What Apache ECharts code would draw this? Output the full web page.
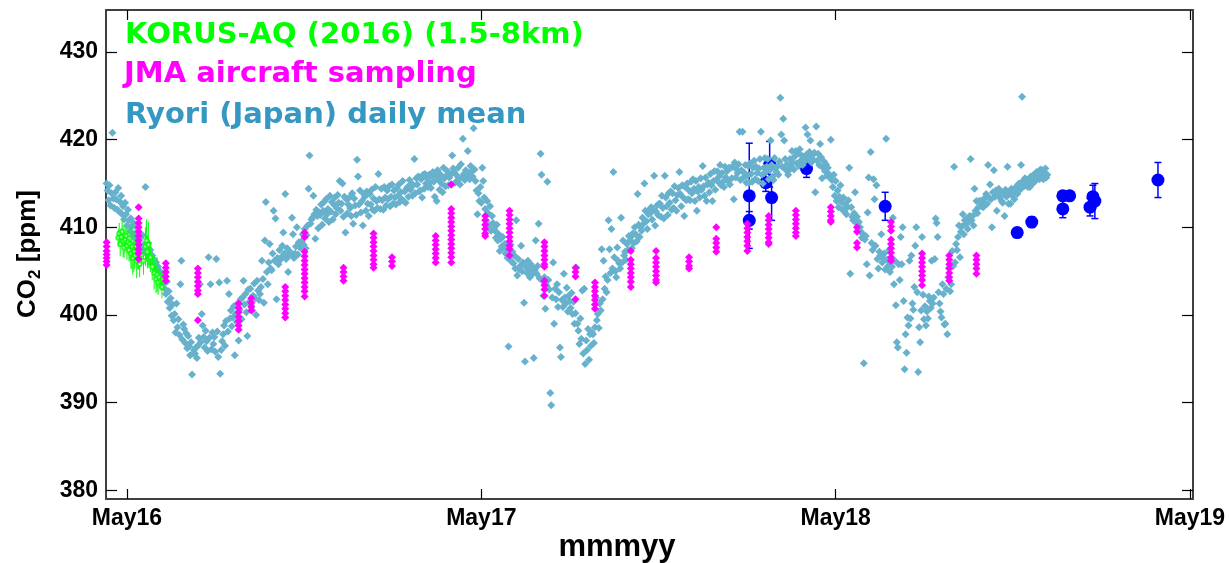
<!DOCTYPE html>
<html><head><meta charset="utf-8">
<script src="https://cdn.jsdelivr.net/npm/echarts@6/dist/echarts.min.js"></script>
<style>html,body{margin:0;padding:0;background:#fff}#c{width:1229px;height:563px}</style>
</head><body><div id="c"></div>
<script>
// ---------- DATA ----------
// Ryori (Japan) daily mean CO2 [ppm]; one value per day
const ryori2016Start = '2016-04-10';
const ryori2016 = [
415.0,414.2,413.1,414.8,412.5,413.9,420.8,413.3,412.2,414.0,
413.2,412.0,414.5,411.8,412.9,413.6,411.5,412.4,410.9,412.8,
411.5,410.2,412.0,410.8,409.6,411.0,410.1,409.0,410.5,409.3,
408.7,410.0,408.2,409.4,407.9,408.8,407.5,409.1,408.0,407.2,
414.6,407.8,406.9,408.2,406.5,407.4,405.9,406.8,405.6,406.3,
405.2,406.0,404.8,405.5,404.3,405.0,404.0,404.7,403.6,404.2,
403.0,402.4,403.8,401.5,402.7,400.8,401.9,399.9,401.2,399.4,
400.1,398.0,401.3,398.6,399.5,397.7,403.5,406.2,397.2,398.9,
398.4,396.8,397.9,396.2,397.6,396.4,395.4,396.9,393.2,395.6,
396.0,395.6,396.3,395.1,396.5,397.4,403.5,396.9,400.1,398.8,
397.5,396.3,398.2,397.0,395.9,406.6,397.4,403.5,396.1,398.0,
396.7,397.5,395.8,406.4,398.1,395.2,403.7,393.3,396.0,397.0,
397.8,398.8,396.5,399.3,403.9,398.1,402.4,399.6,400.5,398.7,
399.7,401.0,395.4,400.1,399.2,401.3,397.1,400.6,401.8,399.5,
402.0,403.9,401.2,402.4,400.3,397.6,402.9,401.5,403.0,401.1,
400.5,402.2,403.6,401.9,400.0,403.9,402.8,401.7,402.4,403.2,
406.2,404.1,401.4,408.5,412.9,404.9,403.5,406.0,408.1,405.3,
405.1,407.0,411.9,406.2,411.0,401.8,406.5,405.8,407.4,406.3,
406.6,407.9,409.4,407.0,413.8,406.4,407.6,404.9,406.8,407.2,
407.0,411.1,409.2,406.5,407.0,407.8,410.0,406.9,408.3,407.7,
407.7,408.4,409.2,408.0,409.8,407.6,409.1,410.2,414.4,418.2,
410.4,410.9,411.1,413.6,411.5,408.7,412.0,411.3,409.9,411.7,
411.4,412.6,410.3,411.9,412.9,411.0,413.2,411.5,412.1,410.6,
413.6,411.8,412.9,410.9,412.6,413.4,411.5,412.2,413.7,412.8,
415.3,411.9,412.7,415.0,411.2,413.5,409.4,413.2,411.6,412.6,
413.4,412.2,411.3,413.9,410.4,413.3,412.5,411.4,417.7,415.8,
412.6,414.2,411.7,413.0,410.2,413.8
];
const ryori2017Start = '2017-01-01';
const ryori2017 = [
413.5,411.9,414.1,412.7,
411.3,413.8,412.6,414.3,412.0,413.3,411.9,414.6,413.0,412.2,
416.1,413.2,412.1,414.4,413.1,412.0,414.6,413.4,412.5,414.2,
413.2,414.7,412.4,413.5,414.9,412.7,414.2,413.4,412.6,414.5,
413.6,414.9,412.9,414.0,413.2,415.3,413.0,414.1,412.8,414.4,
414.6,413.5,415.4,414.3,415.0,413.6,414.8,417.8,413.9,415.6,
414.9,415.8,414.1,414.2,415.5,413.4,416.0,414.4,416.1,415.0,
415.6,414.6,416.0,415.1,414.5,415.8,416.3,415.2,413.5,415.9,
413.0,416.5,415.4,414.3,416.0,415.0,414.0,416.8,415.6,414.7,
415.9,416.4,414.8,415.7,416.0,414.9,418.2,416.7,416.3,415.1,
416.0,415.3,416.8,415.6,414.9,417.2,415.7,420.1,416.1,415.4,
416.5,415.8,418.7,416.2,415.5,417.0,416.4,415.8,421.3,416.6,
415.3,414.2,411.5,413.9,413.0,414.6,412.8,416.8,415.3,413.4,
412.1,410.8,413.0,411.6,410.2,412.4,409.6,411.3,410.5,409.8,
409.6,408.8,410.3,408.5,409.2,407.3,408.7,407.8,408.9,407.7,
408.1,407.0,407.7,406.5,396.4,406.6,408.0,406.1,407.2,405.9,
406.8,405.3,410.8,404.5,406.4,405.2,405.6,407.9,405.0,406.0,
401.4,394.7,405.5,404.8,406.2,405.0,404.3,405.8,404.6,405.4,
395.1,405.1,408.5,404.7,405.6,410.4,404.2,418.4,416.0,403.9,
402.2,404.3,400.7,403.4,415.2,404.0,402.9,391.1,389.7,402.0,
406.0,399.0,403.0,401.8,403.5,400.9,402.6,396.3,395.2,401.7,
400.9,404.7,402.0,401.3,403.1,400.4,402.2,401.6,400.8,402.5,
400.1,401.5,399.0,400.2,405.4,399.0,398.2,396.7,399.6,397.3,
402.8,395.6,403.0,394.4,397.1,396.0,398.4,394.9,397.8,396.5,
398.0,397.8,396.8,398.6,402.0,399.4,400.1,398.5,401.3,400.5,
407.5,401.8,406.2,403.0,404.4,402.6,404.0,410.8,407.5,404.8,
409.8,405.3,416.3,406.6,405.0,404.3,407.7,406.2,405.9,405.3,
411.1,406.0,408.5,406.8,407.2,406.3,408.1,407.4,409.0,408.5,
408.9,407.6,409.3,408.2,410.0,409.2,408.4,413.8,410.3,408.9,
410.0,409.6,411.1,410.4,415.0,411.9,410.7,409.8,411.5,412.0,
411.6,412.3,410.9,412.0,415.9,410.2,411.8,412.5,411.4,412.7,
412.7,411.2,413.6,412.2,411.0,415.9,413.4,412.4,411.4,413.9,
412.8,414.1,412.0,413.9,412.2,414.7,413.1,411.9,413.7,414.5,
416.3,413.8,412.4,414.8,413.4,411.3,414.6,413.1,415.0,413.2,
414.2,413.1,415.2,413.9,415.5,414.4,413.0,415.3,411.9,414.1,
414.6,413.4,415.6,414.3,417.0,414.7,413.6,415.7,413.0,414.9,
415.1,414.0,416.1,414.8,413.0,415.3,416.4,414.3,415.4,416.4,
415.2
];
const ryori2018Start = '2018-01-01';
const ryori2018 = [
415.8,417.1,414.8,416.2,415.2,414.6,416.9,415.7,416.4,
415.3,416.8,414.9,416.8,415.6,416.9,413.2,417.4,415.7,416.6,
416.2,417.2,420.9,415.4,416.5,420.9,415.7,416.2,417.1,415.1,
415.9,417.0,415.1,417.3,416.1,415.2,416.8,417.6,415.5,416.9,
416.2,415.3,416.7,417.8,420.9,416.0,415.0,416.8,417.9,416.3,
416.9,417.8,415.5,416.5,419.9,417.1,415.8,415.4,417.9,416.7,
416.3,417.0,416.0,417.5,424.8,420.6,416.9,422.4,419.9,417.8,
416.5,417.2,416.0,416.5,417.8,416.9,418.7,417.4,416.6,418.1,
418.7,417.3,418.4,417.0,418.9,417.6,418.2,417.1,418.0,417.5,
421.4,418.3,420.6,417.9,418.6,419.9,417.4,418.2,417.7,418.5,
414.0,421.5,417.6,418.4,417.1,419.5,418.0,415.6,416.8,417.5,
416.4,417.2,415.9,416.8,416.1,415.7,420.0,415.4,414.6,416.0,
413.6,415.3,413.0,414.2,412.3,413.5,414.8,412.9,412.0,413.4,
411.8,412.6,411.5,412.3,413.1,416.8,404.7,412.3,411.2,410.8,
411.6,414.0,410.5,411.2,409.9,410.6,410.0,409.5,408.8,409.2,
394.5,408.6,409.0,405.8,411.7,415.7,404.5,418.6,408.2,407.4,
415.5,413.2,407.9,414.8,406.4,405.3,407.2,406.8,409.2,406.0,
406.5,407.0,405.2,420.1,406.3,405.6,407.4,404.9,406.0,405.5,
411.1,403.5,406.2,401.1,396.9,396.3,405.8,404.0,408.9,405.8,
410.0,401.6,393.8,397.8,395.7,399.7,398.8,406.2,399.6,406.8,
401.3,400.6,403.2,407.9,410.0,402.6,393.5,398.6,396.9,400.5,
408.9,402.3,399.5,401.0,398.8,400.4,399.6,402.1,401.6,400.8,
406.2,401.3,402.0,406.4,411.0,410.5,408.9,402.6,401.3,400.4,
399.7,403.5,402.4,398.9,399.0,403.0,397.8,404.3,405.4,402.7,
403.5,407.3,405.6,416.9,406.0,408.1,407.4,408.9,410.2,406.6,
409.5,410.1,411.5,409.2,410.8,410.4,411.0,409.8,410.6,411.3,
417.8,410.8,411.3,410.2,414.4,411.9,413.0,411.6,412.3,413.0,
413.0,412.4,412.9,412.3,413.3,412.6,413.8,412.7,417.1,413.4,
414.9,413.2,410.0,414.0,416.5,413.5,414.2,411.9,413.6,414.4,
413.4,414.1,413.0,412.8,413.8,411.3,414.3,413.5,416.9,412.7,
413.9,412.7,414.4,413.6,414.0,413.2,414.5,414.6,413.8,414.9,
415.0,414.3,417.1,424.9,415.3,414.7,415.6,414.9,415.2,414.6,
415.3,414.6,415.8,414.9,415.7,416.0,415.2,415.9,416.3,415.6,
416.1,415.5,416.6,415.8,416.5,415.5,416.2,416.7,415.7,416.0
];

// JMA aircraft sampling: one flight date, several altitude samples each
const jmaDates = ['2016-04-10','2016-05-13','2016-06-10','2016-07-13','2016-08-24','2016-09-06',
  '2016-10-11','2016-10-31','2016-12-10','2017-01-10','2017-01-29','2017-03-15','2017-03-31',
  '2017-05-05','2017-05-30','2017-07-05','2017-08-06','2017-08-26','2017-10-02','2017-10-28',
  '2017-12-01','2017-12-29','2018-01-30','2018-02-21','2018-03-21','2018-04-26','2018-05-23',
  '2018-06-27','2018-07-29','2018-08-26','2018-09-23'];
const jmaValues = [
  [408.3,407.8,407.3,406.9,406.5,406.1,405.7],
  [412.3,411.0,410.5,410.0,409.5,409.0,408.5,408.0,407.5,407.0,406.4],
  [405.9,405.4,404.9,404.4,403.9],
  [405.3,404.8,404.3,403.8,403.3,402.8,402.4,399.4],
  [401.3,400.8,400.3,399.8,399.3,398.8,398.3],
  [401.9,401.4,400.9,400.5],
  [403.2,402.7,402.2,401.7,401.2,400.7,400.2,399.7],
  [409.4,408.9,407.2,406.7,406.2,405.7,405.2,404.7,404.2,403.7,403.2,402.7,402.1],
  [405.4,404.9,404.4,403.9],
  [409.3,408.8,408.3,407.8,407.3,406.8,406.3,405.8,405.4],
  [406.6,406.1,405.6],
  [409.0,408.5,408.0,407.5,407.0,406.5,406.0],
  [414.9,412.1,411.6,411.1,410.6,410.1,409.6,409.1,408.6,408.1,407.6,407.1,406.6,406.0],
  [411.3,410.8,410.3,409.8,409.3,409.0],
  [411.9,411.4,410.9,410.4,409.9,409.4,408.9,408.4,407.9,407.5,406.8],
  [408.3,407.8,407.3,406.8,406.3,405.8,405.5,403.9,403.4,402.9,402.2],
  [405.4,404.9,404.4,401.8],
  [403.7,403.2,402.7,402.2,401.7,401.2,400.7],
  [407.3,406.3,405.8,405.3,404.8,404.3,403.8,403.2],
  [407.3,406.5,406.0,405.5,405.0,404.5,404.0,403.7],
  [406.6,406.1,405.6,405.3],
  [410.0,408.7,408.2,407.7,407.2],
  [410.4,409.9,409.4,408.9,408.4,407.9,407.3],
  [411.3,410.8,410.3,409.8,409.3,408.8,408.3,408.1],
  [411.9,411.4,410.9,410.4,409.9,409.4,409.0],
  [412.3,411.8,411.3,410.8,410.6],
  [410.0,409.5,408.2,407.7],
  [410.6,410.1,409.6,408.6,408.1,407.6,407.1,406.6,406.2],
  [407.0,406.5,406.0,405.5,405.0,404.5,404.0,403.4],
  [406.8,406.3,405.8,405.3,404.8,404.3,403.9],
  [406.8,406.3,405.8,405.3,404.7]
];

// KORUS-AQ (2016) (1.5-8km): mean and spread
const korusDates = ['2016-04-22','2016-04-23','2016-04-24','2016-04-25','2016-04-26','2016-04-27',
  '2016-04-28','2016-04-29','2016-04-30','2016-05-01','2016-05-02','2016-05-03','2016-05-04',
  '2016-05-05','2016-05-06','2016-05-07','2016-05-08','2016-05-09','2016-05-10','2016-05-11',
  '2016-05-12','2016-05-13','2016-05-14','2016-05-16','2016-05-18','2016-05-20','2016-05-21',
  '2016-05-22','2016-05-23','2016-05-25','2016-05-27','2016-05-29','2016-05-31','2016-06-01',
  '2016-06-02','2016-06-03','2016-06-05','2016-06-06','2016-06-07'];
const korusValues = [408.8,409.3,408.1,408.9,409.5,408.4,407.7,408.6,409.0,407.9,408.3,407.4,408.1,
  407.0,407.8,406.5,407.2,406.8,407.9,406.2,407.0,406.4,405.8,406.9,406.2,407.8,408.5,
  407.2,408.0,406.6,405.5,404.8,404.1,404.6,403.7,404.3,403.9,403.2,404.0];
const korusErr = [1.0,1.2,1.4,1.0,1.3,1.8,1.2,1.5,1.1,1.6,1.3,1.2,2.0,1.7,2.6,1.9,2.3,1.5,1.4,2.0,
  1.8,1.2,1.5,1.3,1.6,2.2,2.4,1.9,2.6,1.7,1.5,1.9,1.6,2.0,1.4,1.2,1.1,1.3,0.9];

// Other aircraft (blue) with error bars
const blueDates = ['2018-02-01','2018-02-01','2018-02-18','2018-02-22','2018-02-24','2018-04-01',
  '2018-06-21','2018-11-04','2018-11-19','2018-12-21','2018-12-21','2018-12-28','2019-01-18',
  '2019-01-21','2019-01-23','2019-03-29'];
const blueValues = [413.6,410.8,415.1,417.2,413.4,416.7,412.4,409.4,410.6,413.6,412.1,413.6,412.3,413.5,413.0,415.4];
const blueErr = [6.0,1.0,1.0,2.6,2.6,1.0,1.6,0.5,0.6,0.5,1.0,0.5,1.0,1.3,2.0,2.0];

// Axis ticks
const xTickDates = ['2016-05-01','2017-05-01','2018-05-01','2019-05-01'];
const yTicks = [380,390,400,410,420,430];
const legendLabels = ['KORUS-AQ (2016) (1.5-8km)','JMA aircraft sampling','Ryori (Japan) daily mean'];

// ---------- BUILD ----------
const DAY = 86400000;
const t = s => Date.parse(s);
function daily(start, arr){ const s=t(start); return arr.map((v,i)=>[s+i*DAY, v]); }
const ryoriData = [].concat(daily(ryori2016Start, ryori2016), daily(ryori2017Start, ryori2017), daily(ryori2018Start, ryori2018));
const jmaData = [];
jmaDates.forEach((d,i)=>jmaValues[i].forEach(v=>jmaData.push([t(d), v])));
const korusData = korusDates.map((d,i)=>[t(d), korusValues[i], korusErr[i]]);
const blueData = blueDates.map((d,i)=>[t(d), blueValues[i], blueErr[i]]);
const xTicks = xTickDates.map(t);

const xMin = t('2016-05-01') - 21.63*DAY;
const xMax = t('2019-05-01') + 3.09*DAY;
const MON = ['Jan','Feb','Mar','Apr','May','Jun','Jul','Aug','Sep','Oct','Nov','Dec'];
const fmtX = v => { const d=new Date(v); return MON[d.getUTCMonth()] + String(d.getUTCFullYear()).slice(2); };

function errRender(color, lw, capHalf){
  return function(params, api){
    const x=api.value(0), v=api.value(1), e=api.value(2);
    const a=api.coord([x, v+e]), b=api.coord([x, v-e]);
    const st={stroke:color, lineWidth:lw};
    const ch=[{type:'line', shape:{x1:a[0],y1:a[1],x2:b[0],y2:b[1]}, style:st}];
    if(capHalf>0){
      ch.push({type:'line', shape:{x1:a[0]-capHalf,y1:a[1],x2:a[0]+capHalf,y2:a[1]}, style:st});
      ch.push({type:'line', shape:{x1:b[0]-capHalf,y1:b[1],x2:b[0]+capHalf,y2:b[1]}, style:st});
    }
    return {type:'group', children:ch};
  };
}

const AX = '#404040';
const tickFont = {fontFamily:'"Liberation Sans", Arial, sans-serif', fontWeight:'bold', color:'#000'};

// measure for rotated y title
const mctx = document.createElement('canvas').getContext('2d');
function tw(txt, font){ mctx.font=font; return mctx.measureText(txt).width; }
const fBig = 'bold 26px "Liberation Sans"', fSub = 'bold 17px "Liberation Sans"';
const w1 = tw('CO', fBig), w2 = tw('2', fSub), w3 = tw(' [ppm]', fBig);
const W = w1+w2+w3;
const legFont = 'bold 29px "DejaVu Sans"';

const chart = echarts.init(document.getElementById('c'), null, {renderer:'canvas'});
chart.setOption({
  animation:false,
  backgroundColor:'#fff',
  grid:{left:106, right:36, top:10, bottom:64, containLabel:false},
  xAxis:[
    {type:'value', min:xMin, max:xMax, position:'bottom',
     axisLine:{show:true, onZero:false, lineStyle:{color:AX, width:2}},
     axisTick:{show:true, inside:true, length:10, customValues:xTicks, lineStyle:{color:'#000', width:1.2}},
     axisLabel:{show:true, customValues:xTicks, formatter:fmtX, margin:8, fontSize:23, ...tickFont},
     splitLine:{show:false}},
    {type:'value', min:xMin, max:xMax, position:'top', gridIndex:0,
     axisLine:{show:true, onZero:false, lineStyle:{color:AX, width:2}},
     axisTick:{show:true, inside:true, length:10, customValues:xTicks, lineStyle:{color:'#000', width:1.2}},
     axisLabel:{show:false}, splitLine:{show:false}}
  ],
  yAxis:[
    {type:'value', min:379, max:434.8, position:'left',
     axisLine:{show:true, onZero:false, lineStyle:{color:AX, width:2}},
     axisTick:{show:true, inside:true, length:11, customValues:yTicks, lineStyle:{color:'#000', width:1.2}},
     axisLabel:{show:true, customValues:yTicks, margin:8, fontSize:23, ...tickFont},
     splitLine:{show:false}},
    {type:'value', min:379, max:434.8, position:'right', gridIndex:0,
     axisLine:{show:true, onZero:false, lineStyle:{color:AX, width:2}},
     axisTick:{show:true, inside:true, length:11, customValues:yTicks, lineStyle:{color:'#000', width:1.2}},
     axisLabel:{show:false}, splitLine:{show:false}}
  ],
  series:[
    {name:'other-err', type:'custom', renderItem:errRender('#0000ff',1.5,3.5), data:blueData,
     encode:{x:0,y:1}, z:1, silent:true},
    {name:'other', type:'scatter', data:blueData.map(d=>[d[0],d[1]]), symbol:'circle', symbolSize:13,
     itemStyle:{color:'#0000ff', opacity:1}, z:2, silent:true},
    {name:'Ryori (Japan) daily mean', type:'scatter', data:ryoriData, symbol:'diamond', symbolSize:8,
     itemStyle:{color:'#67b1cc', opacity:1}, z:3, silent:true},
    {name:'KORUS-err', type:'custom', renderItem:errRender('#00ff00',1,0), data:korusData,
     encode:{x:0,y:1}, z:4, silent:true},
    {name:'KORUS-AQ (2016) (1.5-8km)', type:'scatter', data:korusData.map(d=>[d[0],d[1]]), symbol:'emptyCircle', symbolSize:4,
     itemStyle:{color:'#00ff00', borderColor:'#00ff00', borderWidth:1}, z:4, silent:true},
    {name:'JMA aircraft sampling', type:'scatter', data:jmaData, symbol:'diamond', symbolSize:8,
     itemStyle:{color:'#ff00ff', opacity:1}, z:5, silent:true}
  ],
  graphic:[
    {type:'text', x:125, y:35, z:10, style:{text:legendLabels[0], font:legFont, fill:'#00ff00', textVerticalAlign:'middle'}},
    {type:'text', x:124, y:74, z:10, style:{text:legendLabels[1], font:legFont, fill:'#ff00ff', textVerticalAlign:'middle'}},
    {type:'text', x:125, y:115, z:10, style:{text:legendLabels[2], font:legFont, fill:'#3598c3', textVerticalAlign:'middle'}},
    {type:'group', x:28, y:254, rotation:Math.PI/2, children:[
      {type:'text', x:-W/2, y:0, style:{text:'CO', font:fBig, fill:'#000', textVerticalAlign:'middle'}},
      {type:'text', x:-W/2+w1, y:7, style:{text:'2', font:fSub, fill:'#000', textVerticalAlign:'middle'}},
      {type:'text', x:-W/2+w1+w2, y:0, style:{text:' [ppm]', font:fBig, fill:'#000', textVerticalAlign:'middle'}}
    ]},
    {type:'text', x:617, y:547, z:10, style:{text:'mmmyy', font:'bold 31px "Liberation Sans"', fill:'#000', textAlign:'center', textVerticalAlign:'middle'}}
  ]
});
</script></body></html>
